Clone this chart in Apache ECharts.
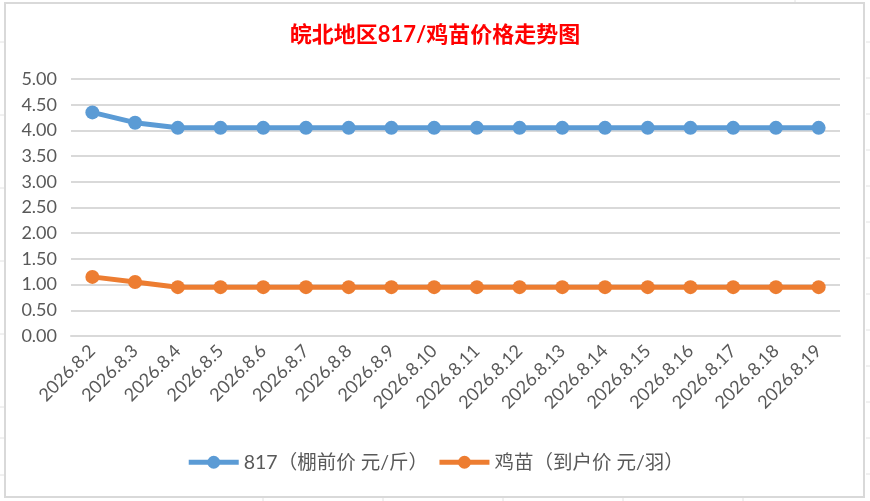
<!DOCTYPE html>
<html>
<head>
<meta charset="utf-8">
<style>
  html, body { margin: 0; padding: 0; background: #fff; }
  #chart { width: 870px; height: 501px; }
</style>
<script src="https://cdn.jsdelivr.net/npm/echarts@6/dist/echarts.min.js"></script>
</head>
<body>
<div id="chart"></div>
<script>
var categories = ['2026.8.2', '2026.8.3', '2026.8.4', '2026.8.5', '2026.8.6', '2026.8.7', '2026.8.8', '2026.8.9', '2026.8.10',
    '2026.8.11', '2026.8.12', '2026.8.13', '2026.8.14', '2026.8.15', '2026.8.16', '2026.8.17', '2026.8.18', '2026.8.19'];
var price817 = [4.35, 4.15, 4.05, 4.05, 4.05, 4.05, 4.05, 4.05, 4.05, 4.05, 4.05, 4.05, 4.05, 4.05, 4.05, 4.05, 4.05, 4.05];
var chickPrice = [1.15, 1.05, 0.95, 0.95, 0.95, 0.95, 0.95, 0.95, 0.95, 0.95, 0.95, 0.95, 0.95, 0.95, 0.95, 0.95, 0.95, 0.95];
var seriesNames = ['817（棚前价 元/斤）', '鸡苗（到户价 元/羽）'];

var font = 'Lato, "Noto Sans CJK SC", sans-serif';
var cellLine = { stroke: '#e2e2e2', lineWidth: 1 };

// spreadsheet cell lines around the chart frame
var sheet = [];
for (let y = 42; y < 501; y += 36) {
    sheet.push({ type: 'line', shape: { x1: 866, y1: y, x2: 870, y2: y }, style: cellLine, silent: true });
}
[42, 115, 188, 261, 334, 407, 438, 475].forEach(function (y) {
    sheet.push({ type: 'line', shape: { x1: 0, y1: y, x2: 4, y2: y }, style: cellLine, silent: true });
});
[263, 383, 503, 623, 743].forEach(function (x) {
    sheet.push({ type: 'line', shape: { x1: x, y1: 498, x2: x, y2: 501 }, style: cellLine, silent: true });
});
sheet.push({ type: 'line', shape: { x1: 795, y1: 0, x2: 795, y2: 2 }, style: cellLine, silent: true });
sheet.push({
    type: 'rect', shape: { x: 5, y: 3, width: 859, height: 494 },
    style: { fill: 'none', stroke: '#d9d9d9', lineWidth: 2 }, silent: true, z: -1
});

let option = {
    backgroundColor: '#fff',
    animation: false,
    textStyle: { fontFamily: font },
    title: {
        text: '皖北地区817/鸡苗价格走势图',
        left: 'center',
        top: 19,
        textStyle: { color: '#ff0000', fontSize: 22, fontWeight: 'bold', fontFamily: font }
    },
    legend: {
        bottom: 24,
        left: 'center',
        itemWidth: 50,
        itemHeight: 16,
        itemGap: 9,
        lineStyle: { width: 5 },
        textStyle: { color: '#595959', fontSize: 19.5, fontFamily: font },
        data: seriesNames
    },
    grid: { left: 71, right: 30, top: 79, bottom: 165, containLabel: false },
    xAxis: {
        type: 'category',
        data: categories,
        boundaryGap: true,
        axisLine: { lineStyle: { color: '#d9d9d9', width: 2 } },
        axisTick: { show: false },
        axisLabel: { rotate: 45, color: '#595959', fontSize: 18, margin: 12, interval: 0, fontFamily: font }
    },
    yAxis: {
        type: 'value',
        min: 0,
        max: 5,
        interval: 0.5,
        axisLine: { show: false },
        axisTick: { show: false },
        axisLabel: {
            color: '#595959', fontSize: 18, margin: 14, fontFamily: font,
            formatter: function (v) { return v.toFixed(2); }
        },
        splitLine: { lineStyle: { color: '#d9d9d9', width: 2 } }
    },
    graphic: sheet,
    series: [{
        name: seriesNames[0],
        type: 'line',
        data: price817,
        symbol: 'circle',
        symbolSize: 14,
        itemStyle: { color: '#5b9bd5' },
        lineStyle: { color: '#5b9bd5', width: 5 }
    }, {
        name: seriesNames[1],
        type: 'line',
        data: chickPrice,
        symbol: 'circle',
        symbolSize: 14,
        itemStyle: { color: '#ed7d31' },
        lineStyle: { color: '#ed7d31', width: 5 }
    }]
};
let mychart = echarts.init(document.getElementById('chart'));
mychart.setOption(option);
</script>
</body>
</html>
